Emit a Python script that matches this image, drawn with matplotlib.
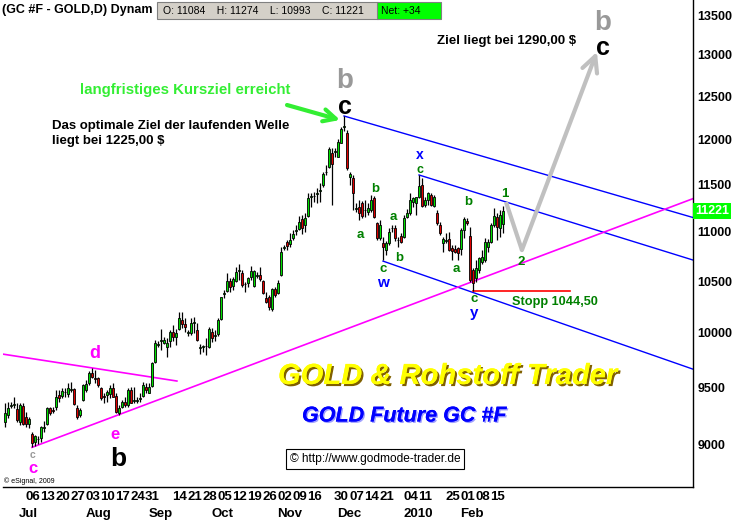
import numpy as np
import pandas as pd
import matplotlib
matplotlib.use("Agg")
import matplotlib.pyplot as plt
import matplotlib.patheffects as pe
from matplotlib.patches import Rectangle
from matplotlib.ticker import NullLocator

W, H = 734, 521
plt.rcParams["font.family"] = ["Liberation Sans", "DejaVu Sans"]
NARROW = ["Liberation Sans Narrow", "Liberation Sans", "DejaVu Sans"]

# ---- trading days (GC #F daily) ----
holidays = ["2009-07-03", "2009-09-07", "2009-11-26", "2009-12-25",
            "2010-01-01", "2010-01-18"]
dates = pd.bdate_range("2009-06-24", "2010-02-19")
dates = dates[~dates.isin(pd.to_datetime(holidays))]

opens = [9188, 9249, 9330, 9337, 9302, 9193, 9331, 9237, 9171, 9088,
         9022, 9042, 9051, 9137, 9174, 9311, 9296, 9319, 9428, 9419,
         9452, 9437, 9476, 9479, 9316, 9252, 9383, 9473, 9533, 9629,
         9578, 9578, 9488, 9419, 9428, 9437, 9488, 9419, 9267, 9325,
         9368, 9340, 9473, 9377, 9377, 9396, 9419, 9503, 9449, 9512,
         9729, 9889, 9922, 9906, 9868, 9924, 10010, 9957, 10033, 10121,
         10083, 9998, 10000, 10097, 10026, 9860, 9866, 9873, 9868, 10007,
         9967, 9988, 10128, 10372, 10404, 10503, 10450, 10503, 10600, 10577,
         10468, 10483, 10543, 10453, 10551, 10560, 10500, 10330, 10340, 10224,
         10418, 10385, 10560, 10838, 10891, 10870, 10933, 11010, 11026, 11130,
         11071, 11165, 11369, 11376, 11405, 11433, 11498, 11635, 11692, 11847,
         11863, 11809, 11966, 12150, 12073, 11589, 11570, 11245, 11264, 11300,
         11227, 11211, 11229, 11353, 11089, 10933, 10887, 10812, 10887, 11035,
         11037, 10913, 10957, 10950, 11158, 11194, 11317, 11300, 11371, 11498,
         11282, 11335, 11389, 11272, 11194, 11071, 10881, 10906, 10922, 10829,
         10819, 10829, 10819, 11019, 11116, 10957, 10610, 10527, 10610, 10694,
         10711, 10846, 10898, 11071, 11158, 11037, 11084]
highs = [9360, 9368, 9368, 9413, 9354, 9354, 9354, 9281, 9237, 9107,
         9079, 9070, 9156, 9199, 9325, 9325, 9325, 9473, 9473, 9488,
         9488, 9533, 9548, 9488, 9340, 9311, 9527, 9563, 9644, 9669,
         9653, 9593, 9503, 9443, 9473, 9518, 9533, 9443, 9340, 9383,
         9413, 9488, 9503, 9503, 9413, 9443, 9548, 9533, 9533, 9729,
         9931, 9924, 10033, 9957, 9947, 10026, 10074, 10033, 10201, 10198,
         10137, 10026, 10137, 10153, 10095, 9893, 9884, 9947, 10058, 10045,
         10026, 10140, 10346, 10411, 10577, 10527, 10543, 10644, 10671, 10610,
         10493, 10543, 10650, 10610, 10593, 10644, 10510, 10394, 10362, 10427,
         10443, 10510, 10846, 10864, 10915, 10985, 11019, 11071, 11165, 11176,
         11194, 11407, 11407, 11425, 11461, 11516, 11643, 11717, 11914, 11903,
         11903, 12005, 12150, 12272, 12111, 11643, 11607, 11300, 11335, 11328,
         11335, 11300, 11389, 11378, 11105, 11123, 10950, 10908, 11037, 11071,
         11071, 10943, 10985, 11176, 11236, 11407, 11371, 11371, 11607, 11570,
         11371, 11425, 11407, 11389, 11229, 11105, 10950, 10985, 11001, 10864,
         10864, 10846, 11037, 11151, 11141, 11054, 10627, 10711, 10745, 10812,
         10933, 10922, 11088, 11247, 11194, 11229, 11274]
lows = [9150, 9223, 9311, 9311, 9193, 9165, 9165, 9150, 9137, 8974,
        8985, 9002, 9022, 9107, 9165, 9252, 9267, 9296, 9368, 9398,
        9413, 9413, 9458, 9340, 9214, 9237, 9374, 9458, 9518, 9578,
        9533, 9503, 9383, 9360, 9368, 9398, 9407, 9267, 9252, 9311,
        9325, 9325, 9354, 9354, 9360, 9368, 9413, 9443, 9443, 9503,
        9720, 9868, 9837, 9893, 9770, 9868, 9924, 9884, 10026, 10042,
        10010, 9969, 9978, 9995, 9924, 9800, 9821, 9791, 9853, 9912,
        9921, 9969, 10121, 10330, 10394, 10394, 10411, 10493, 10510, 10443,
        10394, 10443, 10510, 10443, 10527, 10503, 10372, 10282, 10217, 10210,
        10346, 10372, 10550, 10812, 10812, 10846, 10915, 10967, 11019, 10977,
        11001, 11158, 11264, 11317, 11300, 11317, 11479, 11607, 11681, 11282,
        11809, 11802, 11959, 12103, 11662, 11498, 11229, 11211, 11123, 11141,
        11158, 11176, 11211, 11141, 10915, 10915, 10711, 10762, 10864, 11001,
        10908, 10840, 10881, 10933, 11141, 11176, 11264, 11176, 11353, 11264,
        11264, 11282, 11272, 11264, 11071, 10967, 10795, 10887, 10805, 10711,
        10785, 10711, 10762, 10933, 11071, 10493, 10400, 10493, 10577, 10671,
        10694, 10795, 10881, 11054, 10915, 10950, 10993]
closes = [9267, 9316, 9338, 9346, 9208, 9340, 9174, 9174, 9214, 9013,
          9070, 9047, 9150, 9145, 9316, 9272, 9290, 9407, 9398, 9464,
          9458, 9488, 9482, 9348, 9232, 9296, 9518, 9527, 9629, 9593,
          9572, 9518, 9398, 9413, 9458, 9488, 9413, 9281, 9311, 9368,
          9340, 9473, 9360, 9380, 9383, 9400, 9518, 9473, 9497, 9715,
          9906, 9893, 9926, 9931, 9906, 10010, 9957, 10000, 10137, 10083,
          10052, 10002, 10090, 10101, 9931, 9864, 9870, 9877, 10033, 9950,
          9971, 10121, 10340, 10385, 10503, 10443, 10517, 10593, 10606, 10460,
          10472, 10527, 10603, 10600, 10555, 10517, 10379, 10298, 10249, 10418,
          10362, 10483, 10795, 10842, 10853, 10915, 10974, 11014, 11105, 11037,
          11141, 11353, 11373, 11380, 11409, 11437, 11618, 11639, 11892, 11728,
          11867, 11978, 12119, 12160, 11681, 11618, 11407, 11249, 11194, 11165,
          11231, 11247, 11335, 11158, 10933, 11071, 10840, 10887, 11001, 11039,
          10933, 10917, 10898, 11141, 11194, 11335, 11353, 11364, 11487, 11272,
          11335, 11407, 11282, 11364, 11088, 10991, 10922, 10910, 10812, 10805,
          10795, 10785, 11019, 11130, 11089, 10510, 10483, 10627, 10728, 10745,
          10898, 10898, 11071, 11165, 11054, 11176, 11221]

# axis text
price_ticks = [9000, 9500, 10000, 10500, 11000, 11500, 12000, 12500, 13000, 13500]
day_dates = ["2009-07-06", "2009-07-13", "2009-07-20", "2009-07-27", "2009-08-03",
             "2009-08-10", "2009-08-17", "2009-08-24", "2009-08-31", "2009-09-14",
             "2009-09-21", "2009-09-28", "2009-10-05", "2009-10-12", "2009-10-19",
             "2009-10-26", "2009-11-02", "2009-11-09", "2009-11-16", "2009-11-30",
             "2009-12-07", "2009-12-14", "2009-12-21", "2010-01-04", "2010-01-11",
             "2010-01-25", "2010-02-01", "2010-02-08", "2010-02-15"]
month_dates = ["2009-07-01", "2009-08-03", "2009-09-01", "2009-10-01",
               "2009-11-02", "2009-12-01", "2010-01-04", "2010-02-01"]
month_labels = ["Jul", "Aug", "Sep", "Oct", "Nov", "Dec", "2010", "Feb"]

# drawn lines: (bar index, price) pairs
upper_ch = ([113, 229.3], [12272, 11150])
middle_ch = ([138, 229.3], [11607, 10711])
lower_ch = ([126, 229.3], [10700, 9662])
trend_up = ([9, 229.3], [8974, 11350])
trend_d = ([-0.7, 57.3], [9800, 9554])
stop_line = ([156, 188.3], [10400, 10400])
proj_path = ([167, 172.3, 197.3], [11314, 10812, 13039])
green_arrow = ([94, 111.7], [12400, 12226])

last = dict(O=11084, H=11274, L=10993, C=11221, net="+34")

# =========================
fig = plt.figure(figsize=(W / 100, H / 100), dpi=100)
fig.patch.set_facecolor("white")


def px(x, y):
    return x / W, 1 - y / H


ax = fig.add_axes([3 / W, 34 / H, 690 / W, 487 / H])
ax.set_yscale("log")
ax.set_ylim(8644, 13693)
ax.set_xlim(-0.67, 229.33)

x = np.arange(len(dates))
o = np.array(opens); h = np.array(highs); l = np.array(lows); c = np.array(closes)
up = c >= o
cols = np.where(up, "#00e000", "#e00000")
body_lo = np.minimum(o, c)
body_h = np.maximum(np.abs(c - o), 7)

ax.vlines(x, l, h, color="black", lw=0.9, zorder=3)
ax.bar(x, body_h, bottom=body_lo, width=0.85, color=cols,
       edgecolor="black", linewidth=0.6, zorder=4)

# trend / channel lines
for xs, ys in (upper_ch, middle_ch, lower_ch):
    ax.plot(xs, ys, color="#0000ff", lw=1, zorder=2)
ax.plot(*trend_up, color="#ff00ff", lw=1.2, zorder=2)
ax.plot(*trend_d, color="#ff00ff", lw=1.2, zorder=2)
ax.plot(*stop_line, color="#ff0000", lw=1.2, zorder=2)

# projected move
ax.plot(proj_path[0][:2], proj_path[1][:2], color="#c0c0c0", lw=3,
        solid_capstyle="butt", zorder=2)
ax.annotate("", xy=(proj_path[0][2], proj_path[1][2]),
            xytext=(proj_path[0][1], proj_path[1][1]),
            arrowprops=dict(arrowstyle="->", color="#c0c0c0", lw=3,
                            mutation_scale=28, shrinkA=0, shrinkB=0), zorder=2)
ax.annotate("", xy=(green_arrow[0][1], green_arrow[1][1]),
            xytext=(green_arrow[0][0], green_arrow[1][0]),
            arrowprops=dict(arrowstyle="->", color="#33ee33", lw=3,
                            mutation_scale=22, shrinkA=0, shrinkB=0), zorder=5)

# axes styling
for s in ("top", "left"):
    ax.spines[s].set_visible(False)
ax.spines["right"].set_linewidth(1)
ax.spines["bottom"].set_linewidth(1)
ax.yaxis.tick_right()
ax.yaxis.set_minor_locator(NullLocator())
ax.set_yticks(price_ticks, [str(v) for v in price_ticks])
ax.tick_params(axis="y", length=0, pad=3, labelsize=9)
for t in ax.get_yticklabels():
    t.set_fontweight("bold")

pos = {d: i for i, d in enumerate(dates.strftime("%Y-%m-%d"))}
ax.xaxis.remove_overlapping_locs = False
ax.set_xticks([pos[d] - 0.3 for d in day_dates],
              [d[-2:] for d in day_dates])
ax.set_xticks([pos[d] - 0.25 for d in month_dates], month_labels, minor=True)
ax.tick_params(axis="x", which="both", length=0)
ax.tick_params(axis="x", which="major", pad=3)
ax.tick_params(axis="x", which="minor", pad=15)
for t in ax.get_xticklabels(minor=False) + ax.get_xticklabels(minor=True):
    t.set_ha("left")
    t.set_fontweight("bold")
    t.set_fontsize(9.5)
    t.set_family(NARROW)

# last price marker
ax.annotate(str(last["C"]), xy=(1, last["C"]), xycoords=("axes fraction", "data"),
            xytext=(1.5, 0), textcoords="offset points", va="center", ha="left",
            color="white", fontsize=9, fontweight="bold",
            bbox=dict(boxstyle="square,pad=0.15", fc="#00ff00", ec="none"),
            annotation_clip=False)

# header
fig.text(*px(2, 10), "(GC #F - GOLD,D) Dynam", fontsize=9, fontweight="bold",
         va="center", ha="left")
fig.patches.append(Rectangle(px(157, 19), 221 / W, 17 / H, transform=fig.transFigure,
                             fc="#d4d0c8", ec="#808080", lw=0.8, zorder=5))
fig.text(*px(163, 11), "O: %d    H: %d    L: %d    C: %d" %
         (last["O"], last["H"], last["L"], last["C"]),
         fontsize=7.5, va="center", ha="left", zorder=6)
fig.patches.append(Rectangle(px(377, 19), 64 / W, 17 / H, transform=fig.transFigure,
                             fc="#00ff00", ec="#808080", lw=0.8, zorder=5))
fig.text(*px(381, 11), "Net: " + last["net"], fontsize=7.5, va="center", ha="left",
         zorder=6)

# commentary
fig.text(*px(80, 90), "langfristiges Kursziel erreicht", color="#33ee33",
         fontsize=10.8, fontweight="bold", va="center")
fig.text(*px(52, 126), "Das optimale Ziel der laufenden Welle", fontsize=9.5,
         fontweight="bold", va="center")
fig.text(*px(52, 141), "liegt bei 1225,00 $", fontsize=9.5, fontweight="bold",
         va="center")
fig.text(*px(437, 41), "Ziel liegt bei 1290,00 $", fontsize=9.5, fontweight="bold",
         va="center")


# wave labels
def lab(x0, y0, s, col, size):
    fig.text(*px(x0, y0), s, color=col, fontsize=size, fontweight="bold",
             ha="center", va="baseline")


GR = "#008000"
lab(345, 88, "b", "#999999", 20)
lab(345, 114, "c", "black", 18)
lab(603, 30, "b", "#999999", 20)
lab(603, 55, "c", "black", 18)
lab(95, 358, "d", "#ff00ff", 13)
lab(115, 439, "e", "#ff00ff", 12)
lab(118, 466, "b", "black", 19)
lab(33, 458, "c", "#999999", 7.5)
lab(33, 473, "c", "#ff00ff", 12)
lab(420, 159, "x", "#0000ff", 10)
lab(420, 173, "c", GR, 9)
lab(375, 192, "b", GR, 9.5)
lab(360, 238, "a", GR, 9.5)
lab(393, 220, "a", GR, 9.5)
lab(399, 261, "b", GR, 9.5)
lab(383, 272, "c", GR, 9.5)
lab(383, 287, "w", "#0000ff", 11)
lab(468, 205, "b", GR, 9.5)
lab(505, 197, "1", GR, 9.5)
lab(456, 272, "a", GR, 9.5)
lab(521, 265, "2", GR, 9.5)
lab(474, 302, "c", GR, 9.5)
lab(474, 317, "y", "#0000ff", 11)
fig.text(*px(512, 302), "Stopp 1044,50", color=GR, fontsize=9.2,
         fontweight="bold", va="center", ha="left")

# branding
fig.text(*px(278, 376), "GOLD & Rohstoff Trader", color="#ffff00", fontsize=21,
         fontweight="bold", style="italic", va="center", ha="left",
         path_effects=[pe.withSimplePatchShadow(offset=(1.5, -1.5),
                                                shadow_rgbFace="#806000", alpha=1),
                       pe.Normal()])
fig.text(*px(302, 416), "GOLD Future GC #F", color="#0000ff", fontsize=15.5,
         fontweight="bold", style="italic", va="center", ha="left",
         path_effects=[pe.withSimplePatchShadow(offset=(1, -1),
                                                shadow_rgbFace="#a0a0ff", alpha=1),
                       pe.Normal()])
fig.text(*px(375, 459), "\u00a9 http://www.godmode-trader.de", fontsize=8.6,
         ha="center", va="center",
         bbox=dict(boxstyle="square,pad=0.35", fc="white", ec="black", lw=0.8))
fig.text(*px(4, 481), "\u00a9 eSignal, 2009", fontsize=5, va="center", ha="left")

fig.savefig("out.png", dpi=100)
